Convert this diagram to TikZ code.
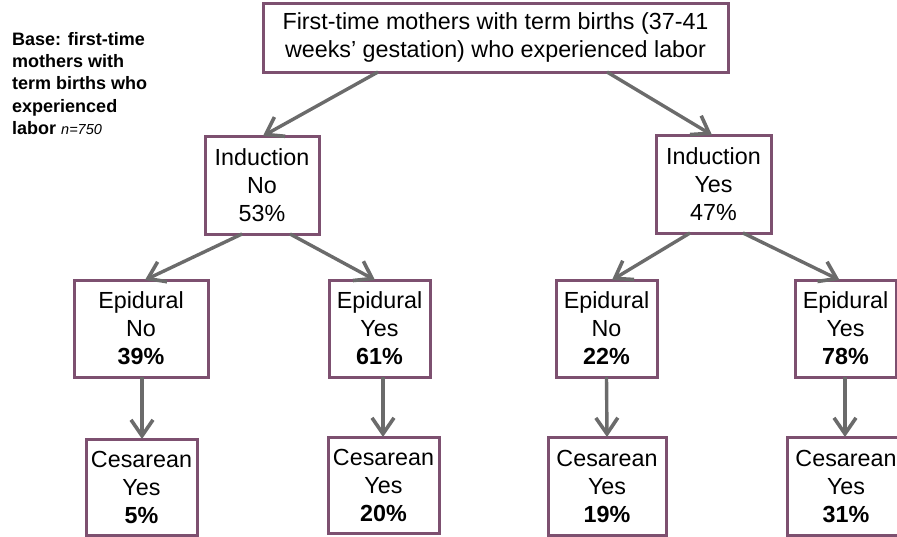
\documentclass[tikz,border=0pt]{standalone}
\usepackage{fontspec}
\setmainfont{Liberation Sans}
\usetikzlibrary{arrows.meta,calc}
\definecolor{boxc}{HTML}{7D5070}
\definecolor{arrc}{HTML}{6B6B6B}
\begin{document}
\begin{tikzpicture}[x=1pt,y=-1pt,
  box/.style={draw=boxc,line width=3pt,fill=white,inner sep=0pt,outer sep=0pt,align=center,
    font=\fontsize{23.3}{28}\selectfont},
  conn/.style={draw=arrc,line width=3.4pt,-{Straight Barb[length=16pt,width=22pt,line width=3.6pt]}}]
\useasboundingbox (0,0) rectangle (897,536);
\clip (0,0) rectangle (897,536);
\node[box,minimum width=465pt,minimum height=69pt] (top) at (495.5,37.5)
  {First-time mothers with term births (37-41\\weeks' gestation) who experienced labor};
\node[anchor=north west,inner sep=0pt,align=left,font=\fontsize{18}{22.3}\selectfont\bfseries] (base) at (12,32)
  {Base: first-time\\mothers with\\term births who\\experienced\\labor {\mdseries\itshape\fontsize{14.5}{22}\selectfont n=750}};
\node[box,minimum width=114pt,minimum height=98pt] (indno) at (262,185) {Induction\\No\\53\%};
\node[box,minimum width=115pt,minimum height=98pt] (indyes) at (713.5,184) {Induction\\Yes\\47\%};
\node[box,minimum width=134pt,minimum height=97pt] (epinoL) at (141,328.5) {Epidural\\No\\\textbf{39\%}};
\node[box,minimum width=101pt,minimum height=97pt] (epiyesL) at (379.5,328.5) {Epidural\\Yes\\\textbf{61\%}};
\node[box,minimum width=101pt,minimum height=97pt] (epinoR) at (606.5,328.5) {Epidural\\No\\\textbf{22\%}};
\node[box,minimum width=101pt,minimum height=97pt] (epiyesR) at (845.5,328.5) {Epidural\\Yes\\\textbf{78\%}};
\node[box,minimum width=111pt,minimum height=96pt] (cesA) at (141.5,487) {Cesarean\\Yes\\\textbf{5\%}};
\node[box,minimum width=111pt,minimum height=96pt] (cesB) at (383.5,485) {Cesarean\\Yes\\\textbf{20\%}};
\node[box,minimum width=118pt,minimum height=98pt] (cesC) at (607,486) {Cesarean\\Yes\\\textbf{19\%}};
\node[box,minimum width=118pt,minimum height=98pt] (cesD) at (846,486) {Cesarean\\Yes\\\textbf{31\%}};
\draw[conn] ([xshift=-117.5pt]top.south) -- ([xshift=1pt]indno.north);
\draw[conn] ([xshift=111.5pt]top.south) -- ([xshift=-1.5pt]indyes.north);
\draw[conn] ([xshift=-20pt]indno.south) -- ([xshift=4pt]epinoL.north);
\draw[conn] ([xshift=28pt]indno.south) -- ([xshift=-4.5pt]epiyesL.north);
\draw[conn] ([xshift=-23.5pt]indyes.south) -- ([xshift=5.5pt]epinoR.north);
\draw[conn] ([xshift=29.5pt]indyes.south) -- ([xshift=-6pt]epiyesR.north);
\draw[conn] ([xshift=1pt]epinoL.south) -- ([xshift=0.5pt]cesA.north);
\draw[conn] ([xshift=3.5pt]epiyesL.south) -- ([xshift=-0.5pt]cesB.north);
\draw[conn] (epinoR.south) -- (cesC.north);
\draw[conn] ([xshift=-0.5pt]epiyesR.south) -- ([xshift=-1pt]cesD.north);
\end{tikzpicture}
\end{document}
